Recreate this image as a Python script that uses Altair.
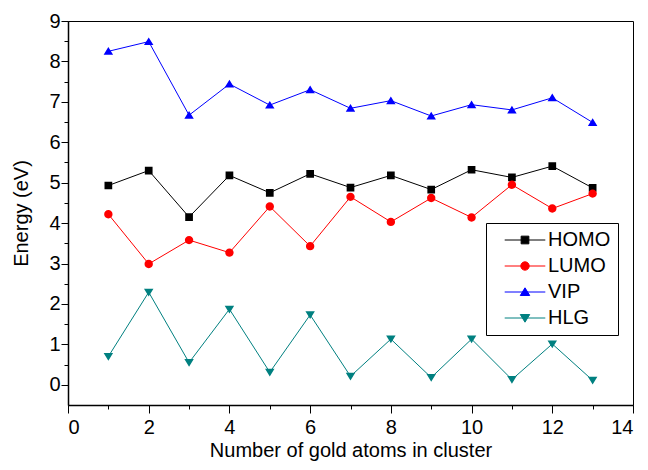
import altair as alt
import pandas as pd

n_atoms = list(range(1, 14))
homo = [4.93, 5.30, 4.15, 5.18, 4.75, 5.22, 4.88, 5.18, 4.83, 5.32, 5.13, 5.41, 4.87]
lumo = [4.22, 2.99, 3.58, 3.27, 4.41, 3.43, 4.65, 4.03, 4.62, 4.14, 4.95, 4.36, 4.73]
vip = [8.25, 8.49, 6.67, 7.44, 6.92, 7.30, 6.84, 7.03, 6.65, 6.93, 6.80, 7.10, 6.49]
hlg = [0.70, 2.29, 0.55, 1.87, 0.31, 1.73, 0.21, 1.13, 0.18, 1.13, 0.13, 1.01, 0.11]

series_names = ["HOMO", "LUMO", "VIP", "HLG"]
series_vals = [homo, lumo, vip, hlg]
colors = ["#000000", "#ff0000", "#0000ff", "#008080"]
# marker shapes: a stroke-only horizontal segment (visible only in the legend,
# where symbols are stroked) plus the filled marker
marker_shapes = [
    "M-5.8,0H5.8M-1.1,-1.1H1.1V1.1H-1.1Z",
    "M-5.8,0H5.8M1.2,0A1.2,1.2 0 1,1 -1.2,0A1.2,1.2 0 1,1 1.2,0Z",
    "M-5.8,0H5.8M0,-1.2L1.35,1.0H-1.35Z",
    "M-5.8,0H5.8M0,1.2L1.35,-1.0H-1.35Z",
]

rows = []
for name, vals in zip(series_names, series_vals):
    for n, v in zip(n_atoms, vals):
        rows.append({"n": n, "E": v, "series": name})
df = pd.DataFrame(rows)

FONT = "Liberation Sans"
xscale = alt.Scale(domain=[0, 14], nice=False, zero=False)
yscale = alt.Scale(domain=[-0.5, 9], nice=False, zero=False)

x_major = alt.Axis(values=list(range(0, 15, 2)), tickSize=8, labelPadding=4, grid=False,
                   title="Number of gold atoms in cluster", titlePadding=3,
                   domainWidth=1.5, orient="bottom")
y_major = alt.Axis(values=list(range(0, 10)), tickSize=7, labelPadding=1, grid=False,
                   title="Energy (eV)", titlePadding=17, domainWidth=1.5, orient="left")
x_minor = alt.Axis(values=list(range(1, 14, 2)), tickSize=4, labels=False, domain=False,
                   grid=False, title=None, orient="bottom")
y_minor = alt.Axis(values=[i + 0.5 for i in range(0, 9)], tickSize=4, labels=False,
                   domain=False, grid=False, title=None, orient="left")

base = alt.Chart(df)

line_layers = []
for i, (name, col) in enumerate(zip(series_names, colors)):
    line_layers.append(
        base.transform_filter(alt.datum.series == name).mark_line(strokeWidth=1, color=col).encode(
            x=alt.X("n:Q", scale=xscale, axis=x_major if i == 0 else None),
            y=alt.Y("E:Q", scale=yscale, axis=y_major if i == 0 else None),
            order="n:Q",
        )
    )

cscale = alt.Scale(domain=series_names, range=colors)
sscale = alt.Scale(domain=series_names, range=marker_shapes)
leg = alt.Legend(title=None)

points = base.mark_point(filled=True, opacity=1, size=49).encode(
    x=alt.X("n:Q", scale=xscale, axis=x_minor),
    y=alt.Y("E:Q", scale=yscale, axis=y_minor),
    color=alt.Color("series:N", scale=cscale, legend=leg),
    stroke=alt.Stroke("series:N", scale=cscale, legend=leg),
    shape=alt.Shape("series:N", scale=sscale, legend=leg),
    strokeWidth=alt.value(0),
)

chart = alt.layer(*line_layers, points).resolve_axis(
    x="independent", y="independent"
).properties(
    width=565, height=384,
    autosize=alt.AutoSizeParams(type="none"),
    padding={"left": 60, "top": 13, "right": 7, "bottom": 57},
).configure_view(
    stroke="#000000", strokeWidth=1
).configure_axis(
    labelFont=FONT, labelFontSize=20, labelColor="#000000",
    titleFont=FONT, titleFontSize=20, titleFontWeight="normal", titleColor="#000000",
    tickColor="#000000", domainColor="#000000", tickWidth=1,
).configure_legend(
    orient="none", legendX=418, legendY=202,
    strokeColor="#000000", fillColor="#ffffff", padding=7, rowPadding=6,
    labelFont=FONT, labelFontSize=20, labelColor="#000000",
    symbolSize=49, symbolStrokeWidth=1, symbolOffset=22, labelOffset=13,
    cornerRadius=0,
)

chart.save("out.html", embed_options={"renderer": "svg", "actions": False})
